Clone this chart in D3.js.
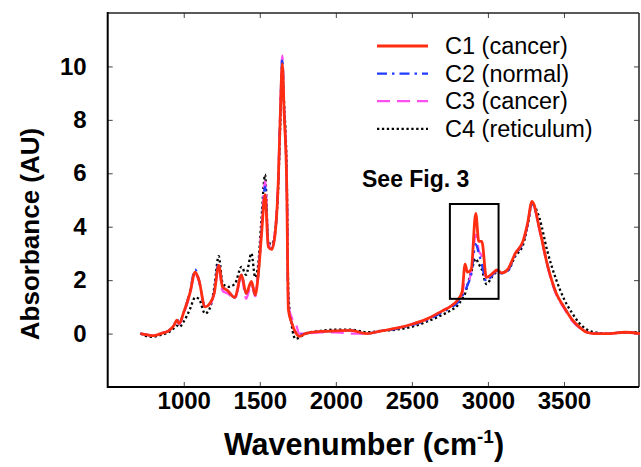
<!DOCTYPE html>
<html>
<head>
<meta charset="utf-8">
<script src="https://cdn.jsdelivr.net/npm/d3@7"></script>
<style>
  html, body { margin: 0; padding: 0; background: #fff; }
  svg { display: block; font-family: "Liberation Sans", Arial, Helvetica, sans-serif; }
</style>
</head>
<body>
<svg id="chart" width="641" height="467"></svg>
<script>
// wavenumber grid (cm-1), shared by all four spectra
const wavenumbers = [715, 760, 800, 850, 900, 935, 955, 970, 1000, 1040, 1075, 1100, 1140, 1175, 1200, 1230, 1255, 1290, 1335, 1380, 1410, 1445, 1470, 1490, 1510, 1535, 1556, 1578, 1600, 1622, 1635, 1648, 1660, 1677, 1688, 1710, 1735, 1760, 1800, 1900, 2000, 2100, 2200, 2300, 2400, 2500, 2600, 2700, 2750, 2800, 2830, 2850, 2865, 2890, 2920, 2940, 2960, 2990, 3030, 3060, 3090, 3130, 3180, 3230, 3260, 3290, 3340, 3390, 3450, 3500, 3550, 3600, 3650, 3700, 3800, 3900, 4000];

const c1 = [0.0, -0.05, -0.08, 0.0, 0.1, 0.3, 0.5, 0.38, 0.8, 1.5, 2.3, 2.0, 1.0, 1.15, 1.5, 2.55, 1.75, 1.6, 1.35, 2.2, 1.5, 1.95, 1.45, 2.2, 3.6, 5.2, 3.25, 3.15, 3.7, 5.75, 8.2, 10.1, 8.3, 5.6, 0.9, 0.4, 0.05, -0.1, 0.0, 0.08, 0.1, 0.12, 0.0, 0.1, 0.2, 0.35, 0.55, 0.85, 1.0, 1.25, 1.55, 2.6, 2.3, 2.4, 4.5, 3.45, 3.45, 2.1, 2.25, 2.38, 2.27, 2.4, 3.0, 3.45, 4.1, 4.95, 3.9, 2.6, 1.5, 1.0, 0.55, 0.25, 0.05, 0.0, 0.0, 0.05, 0.0];

const c2 = [0.0, -0.05, -0.08, 0.0, 0.1, 0.3, 0.55, 0.4, 0.8, 1.55, 2.4, 2.0, 1.0, 1.15, 1.55, 2.65, 1.75, 1.6, 1.35, 2.2, 1.5, 1.9, 1.45, 2.2, 3.7, 5.5, 3.3, 3.2, 3.7, 5.8, 8.3, 10.3, 8.3, 5.6, 1.0, 0.4, 0.05, -0.05, 0.0, 0.08, 0.1, 0.12, 0.0, 0.1, 0.18, 0.32, 0.5, 0.8, 0.95, 1.15, 1.4, 1.6, 1.8, 2.2, 3.35, 3.0, 2.6, 1.95, 2.2, 2.35, 2.25, 2.35, 2.95, 3.4, 4.05, 4.9, 3.9, 2.6, 1.5, 1.0, 0.55, 0.25, 0.05, 0.0, 0.0, 0.05, 0.0];

const c3 = [0.0, -0.05, -0.08, 0.0, 0.1, 0.3, 0.45, 0.35, 0.75, 1.45, 2.25, 1.95, 1.0, 1.1, 1.5, 2.5, 1.6, 1.5, 1.3, 2.1, 1.3, 1.85, 1.4, 2.3, 3.8, 5.7, 3.4, 3.2, 3.8, 5.9, 8.4, 10.4, 8.4, 5.8, 1.1, 0.6, 0.4, 0.0, 0.0, 0.05, 0.05, 0.0, 0.0, 0.1, 0.2, 0.35, 0.55, 0.85, 1.0, 1.2, 1.45, 2.0, 1.9, 2.3, 3.7, 3.1, 2.9, 2.0, 2.2, 2.35, 2.25, 2.38, 3.0, 3.45, 4.05, 4.9, 3.85, 2.55, 1.45, 0.95, 0.5, 0.22, 0.05, 0.0, 0.0, 0.05, 0.0];

const c4 = [0.0, -0.1, -0.12, -0.05, 0.05, 0.2, 0.3, 0.25, 0.45, 0.9, 1.35, 1.3, 0.75, 1.0, 1.7, 2.9, 1.9, 1.75, 1.85, 2.5, 2.2, 3.0, 2.1, 2.6, 4.2, 5.95, 3.4, 3.35, 3.8, 5.6, 7.9, 9.8, 8.6, 6.0, 1.5, 0.3, -0.2, -0.15, 0.0, 0.1, 0.15, 0.15, 0.05, 0.1, 0.15, 0.25, 0.45, 0.7, 0.85, 1.05, 1.3, 1.5, 1.8, 2.3, 2.8, 2.6, 2.4, 1.85, 2.15, 2.3, 2.3, 2.35, 2.9, 3.3, 4.0, 4.85, 4.3, 3.1, 2.0, 1.3, 0.8, 0.4, 0.15, 0.05, 0.0, 0.05, 0.05];

const seriesNames = ["C1 (cancer)", "C2 (normal)", "C3 (cancer)", "C4 (reticulum)"];
const seriesValues = [c1, c2, c3, c4];

const xTicks = [1000, 1500, 2000, 2500, 3000, 3500];
const yTicks = [0, 2, 4, 6, 8, 10];

// highlighted region ("See Fig. 3")
const boxX = [2750, 3070];
const boxY = [1.3, 4.85];

// styles per series (same order as seriesNames)
const STYLES = [
  { color: "#ff2e12", width: 2.8, dash: null },
  { color: "#1f3dff", width: 2.3, dash: "10,5,2.5,5" },
  { color: "#ff4ff0", width: 2.3, dash: "13,7" },
  { color: "#000000", width: 2.3, dash: "2.3,2.6" },
];

const W = 641, H = 467;
const margin = { top: 13, right: 1, bottom: 80, left: 107.7 };
const FONT = '"Liberation Sans", Arial, sans-serif';

const svg = d3.select("#chart");

const x = d3.scaleLinear().domain([500, 4000]).range([margin.left, W - margin.right]);
const y = d3.scaleLinear().domain([-2, 12]).range([H - margin.bottom, margin.top]);

svg.append("defs").append("clipPath").attr("id", "plot-clip")
  .append("rect")
  .attr("x", margin.left).attr("y", margin.top)
  .attr("width", W - margin.right - margin.left)
  .attr("height", H - margin.bottom - margin.top);

// --- axes (ticks point inward on all sides) ---
const styleAxis = (sel) => {
  sel.select(".domain").remove();
  sel.selectAll(".tick line").attr("stroke", "#444").attr("stroke-width", 1);
};
const styleLabels = (g) => g.selectAll("text")
  .attr("font-size", 24).attr("font-weight", "bold").attr("fill", "#000").attr("font-family", FONT);

svg.append("g")
  .attr("transform", `translate(0,${H - margin.bottom})`)
  .call(d3.axisBottom(x).tickValues(xTicks).tickSize(-5).tickPadding(5).tickFormat(d3.format("d")))
  .call(styleAxis)
  .call(styleLabels);

svg.append("g")
  .attr("transform", `translate(0,${margin.top})`)
  .call(d3.axisTop(x).tickValues(xTicks).tickSize(-5).tickFormat(""))
  .call(styleAxis);

svg.append("g")
  .attr("transform", `translate(${margin.left},0)`)
  .call(d3.axisLeft(y).tickValues(yTicks).tickSize(-5).tickPadding(21))
  .call(styleAxis)
  .call(styleLabels);

svg.append("g")
  .attr("transform", `translate(${W - margin.right - 1},0)`)
  .call(d3.axisRight(y).tickValues(yTicks).tickSize(-5).tickFormat(""))
  .call(styleAxis);

// frame
const x0 = margin.left, x1 = W - margin.right - 1;
const yT = margin.top, yB = H - margin.bottom;
svg.append("line").attr("x1", x0).attr("x2", x1).attr("y1", yT).attr("y2", yT).attr("stroke", "#222").attr("stroke-width", 1.5);
svg.append("line").attr("x1", x1).attr("x2", x1).attr("y1", yT).attr("y2", yB).attr("stroke", "#222").attr("stroke-width", 1.5);
svg.append("line").attr("x1", x0).attr("x2", x1).attr("y1", yB).attr("y2", yB).attr("stroke", "#000").attr("stroke-width", 2);
svg.append("line").attr("x1", x0).attr("x2", x0).attr("y1", yT - 1).attr("y2", yB + 1).attr("stroke", "#000").attr("stroke-width", 2);

// --- spectra (drawn C4 first so C1 sits on top) ---
const line = d3.line()
  .x((d) => x(d[0]))
  .y((d) => y(d[1]))
  .curve(d3.curveMonotoneX);

const plotG = svg.append("g").attr("clip-path", "url(#plot-clip)");
const drawOrder = [3, 2, 1, 0];
for (const i of drawOrder) {
  const pts = wavenumbers.map((w, k) => [w, seriesValues[i][k]]);
  plotG.append("path")
    .datum(pts)
    .attr("d", line)
    .attr("fill", "none")
    .attr("stroke", STYLES[i].color)
    .attr("stroke-width", STYLES[i].width)
    .attr("stroke-dasharray", STYLES[i].dash)
    .attr("stroke-linejoin", "round");
}

// --- highlight box + note ---
svg.append("rect")
  .attr("x", x(boxX[0]))
  .attr("y", y(boxY[1]))
  .attr("width", x(boxX[1]) - x(boxX[0]))
  .attr("height", y(boxY[0]) - y(boxY[1]))
  .attr("fill", "none")
  .attr("stroke", "#000")
  .attr("stroke-width", 2);

svg.append("text")
  .attr("x", 362)
  .attr("y", 187)
  .attr("font-size", 23)
  .attr("font-weight", "bold")
  .text("See Fig. 3");

// --- legend ---
const legend = svg.append("g").attr("transform", "translate(377,46)");
seriesNames.forEach((name, i) => {
  const ly = i * 27.6;
  legend.append("line")
    .attr("x1", 0).attr("x2", 51)
    .attr("y1", ly).attr("y2", ly)
    .attr("stroke", STYLES[i].color)
    .attr("stroke-width", STYLES[i].width)
    .attr("stroke-dasharray", STYLES[i].dash);
  legend.append("text")
    .attr("x", 68)
    .attr("y", ly)
    .attr("dy", "0.35em")
    .attr("font-size", 23.5)
    .text(name);
});

// --- axis titles ---
svg.append("text")
  .attr("transform", `translate(39,234) rotate(-90)`)
  .attr("text-anchor", "middle")
  .attr("font-size", 26)
  .attr("font-weight", "bold")
  .text("Absorbance (AU)");

const xt = svg.append("text")
  .attr("x", 364)
  .attr("y", 455)
  .attr("text-anchor", "middle")
  .attr("font-size", 30.5)
  .attr("font-weight", "bold");
xt.append("tspan").text("Wavenumber (cm");
xt.append("tspan").attr("dy", -12).attr("font-size", 19).text("-1");
xt.append("tspan").attr("dy", 12).text(")");
</script>
</body>
</html>
